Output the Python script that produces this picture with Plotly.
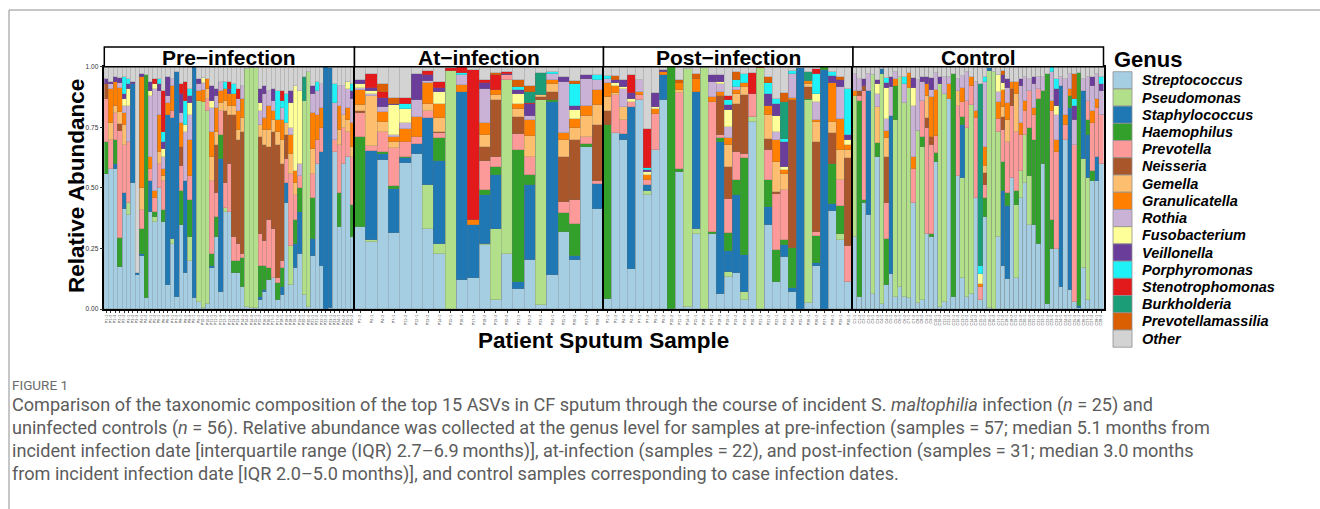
import plotly.graph_objects as go
from plotly.subplots import make_subplots

W, H = 1320, 509

genera = ["Streptococcus", "Pseudomonas", "Staphylococcus", "Haemophilus", "Prevotella",
          "Neisseria", "Gemella", "Granulicatella", "Rothia", "Fusobacterium", "Veillonella",
          "Porphyromonas", "Stenotrophomonas", "Burkholderia", "Prevotellamassilia", "Other"]
genus_colors = ["#a6cee3", "#b2df8a", "#1f78b4", "#33a02c", "#fb9a99", "#a9562a", "#fdbf6f",
                "#ff7f00", "#cab2d6", "#ffff99", "#6a3d9a", "#1ff2f7", "#e31a1c", "#1b9e77",
                "#d95f02", "#d3d3d3"]
panel_titles = ["Pre\u2212infection", "At\u2212infection", "Post\u2212infection", "Control"]

pre_samples = ["P1\u22121", "P1\u22122", "P1\u22123", "P2\u22121", "P2\u22122", "P3\u22121", "P3\u22122", "P3\u22123", "P4\u22121", "P4\u22122",
               "P5\u22121", "P5\u22122", "P6\u22121", "P6\u22122", "P6\u22123", "P7\u22121", "P7\u22122", "P8\u22121", "P8\u22122", "P8\u22123",
               "P9\u22121", "P9\u22122", "P10\u22121", "P10\u22122", "P11\u22121", "P11\u22122", "P11\u22123", "P12\u22121", "P12\u22122", "P13\u22121",
               "P13\u22122", "P14\u22121", "P14\u22122", "P14\u22123", "P15\u22121", "P15\u22122", "P16\u22121", "P16\u22122", "P17\u22121", "P17\u22122",
               "P18\u22121", "P18\u22122", "P18\u22123", "P19\u22121", "P19\u22122", "P20\u22121", "P20\u22122", "P21\u22121", "P21\u22122", "P22\u22121",
               "P22\u22122", "P23\u22121", "P23\u22122", "P24\u22121", "P24\u22122", "P25\u22121", "P25\u22122"]
at_samples = ["P1\u22122", "P4\u22121", "P4\u22122", "P7\u22121", "P11\u22122", "P12\u22121", "P13\u22122", "P14\u22121", "P15\u22121", "P16\u22121",
              "P17\u22121", "P18\u22122", "P19\u22122", "P20\u22122", "P21\u22121", "P22\u22122", "P23\u22121", "P24\u22121", "P25\u22121", "P26\u22121",
              "P27\u22122", "P28\u22121"]
post_samples = ["P1\u22121", "P1\u22122", "P4\u22121", "P4\u22122", "P7\u22121", "P7\u22122", "P9\u22121", "P9\u22122", "P10\u22122", "P11\u22121",
                "P14\u22121", "P15\u22121", "P16\u22121", "P17\u22121", "P18\u22121", "P19\u22121", "P19\u22122", "P19\u22123", "P20\u22121", "P21\u22121",
                "P21\u22122", "P22\u22121", "P23\u22121", "P24\u22121", "P25\u22121", "P26\u22121", "P26\u22122", "P27\u22121", "P28\u22121", "P29\u22121",
                "P30\u22121"]
control_samples = ["C1\u22121", "C1\u22122", "C2\u22121", "C2\u22122", "C3\u22121", "C3\u22122", "C4\u22121", "C4\u22122", "C5\u22121", "C5\u22122",
                   "C6\u22121", "C6\u22122", "C7\u22121", "C7\u22122", "C8\u22121", "C8\u22122", "C9\u22121", "C9\u22122", "C10\u22121", "C10\u22122",
                   "C11\u22121", "C11\u22122", "C12\u22121", "C12\u22122", "C13\u22121", "C13\u22122", "C14\u22121", "C14\u22122", "C15\u22121", "C15\u22122",
                   "C16\u22121", "C16\u22122", "C17\u22121", "C17\u22122", "C18\u22121", "C18\u22122", "C19\u22121", "C19\u22122", "C20\u22121", "C20\u22122",
                   "C21\u22121", "C21\u22122", "C22\u22121", "C22\u22122", "C23\u22121", "C23\u22122", "C24\u22121", "C24\u22122", "C25\u22121", "C25\u22122",
                   "C26\u22121", "C26\u22122", "C27\u22121", "C27\u22122", "C28\u22121", "C28\u22122"]

# relative abundance per genus: [pre, at, post, control]
streptococcus = [
    [.56, .58, .58, .175, .415, .39, .52, .14, .22, .045, .40, .36, .5, .36, .10, .27, .05, .35, .15, .2,
     .045, .03, .005, .02, .17, .3, .07, .4, .4, .15, .15, .09, .01, .005, .005, .04, .07, .12, .13, .04,
     .06, .44, .1, .17, .23, .06, .01, .22, .6, .18, 0, .005, .65, .34, .6, .63, .3],
    [.34, .278, .615, .315, .604, .642, .333, .23, .003, .12, .131, .264, .04, .23, .085, .202, .017, .14, .319, .202, .67, .415],
    [.041, .728, .697, .168, .865, .47, .659, .862, .003, .567, .01, .312, 0, .312, .062, .133, .151, .04, .773, 0,
     .347, .113, .216, .072, 0, .026, .177, .003, .406, .287, .113],
    [.30, .05, .44, .39, .065, .63, .02, .1, .147, .05, .09, .05, .045, .44, .025, .04, .31, .3, .61, .01,
     .03, .87, .05, .55, .13, .05, .065, .46, .04, .38, .005, 0, .3, .18, .127, .54, .13, .46, .52, .35,
     .35, .27, .6, .02, .25, .25, .09, .7, .08, .03, .005, .17, .04, .53, .53, .6]]
pseudomonas = [
    [0, 0, 0, 0, 0, .05, 0, 0, 0, 0, 0, .02, 0, 0, 0, .02, 0, 0, 0, .1,
     0, .83, .85, .8, 0, 0, 0, .02, 0, 0, 0, 0, .98, .99, .99, 0, 0, 0, 0, 0,
     0, 0, .16, 0, 0, .8, .97, 0, 0, 0, 0, 0, 0, 0, 0, 0, 0],
    [0, .007, 0, 0, 0, 0, .179, .039, .98, 0, 0, .007, .293, .718, 0, 0, .846, 0, 0, 0, 0, 0],
    [0, 0, 0, 0, 0, .018, 0, 0, 0, 0, .983, .021, .997, 0, 0, .021, 0, .032, .021, .995,
     0, 0, 0, 0, 0, .836, 0, 0, 0, .022, 0],
    [.58, 0, 0, 0, .9, 0, .95, 0, 0, .73, .87, .8, .87, 0, .71, .63, 0, 0, 0, .92,
     .86, 0, 0, 0, .41, .7, .78, 0, 0, 0, .98, .98, .43, 0, 0, 0, .3, .11, .2, .2,
     0, 0, 0, 0, 0, 0, 0, 0, 0, 0, 0, .45, .5, 0, 0, 0]]
staphylococcus = [
    [0, 0, .02, 0, .065, 0, .41, .01, .01, 0, .13, 0, 0, 0, .7, .5, .93, 0, .38, 0,
     .955, 0, 0, 0, .01, 0, .55, 0, 0, 0, 0, 0, 0, 0, 0, .01, .01, 0, 0, 0,
     .03, .08, 0, .1, .17, 0, 0, .07, 0, .47, 1.0, .99, 0, 0, 0, 0, 0],
    [0, .37, .028, .183, .019, .041, .279, .344, 0, .777, .219, .2, .22, 0, .028, .31, 0, .715, 0, .017, 0, .103],
    [0, 0, .028, .667, 0, .023, 0, .106, 0, 0, 0, .564, 0, 0, .629, .087, .319, .151, 0, 0,
     .076, 0, .048, .014, .997, 0, .014, .983, .03, 0, 0],
    [0, 0, 0, .51, 0, 0, .02, 0, .65, 0, 0, 0, 0, 0, 0, 0, 0, 0, 0, 0,
     0, 0, 0, 0, .22, 0, 0, 0, 0, 0, .01, 0, 0, .31, .3, 0, 0, 0, 0, 0,
     0, 0, 0, 0, 0, 0, .83, 0, .75, 0, .01, .28, .18, 0, .1, 0]]
haemophilus = [
    [.13, 0, .1, .12, 0, 0, 0, 0, .1, .92, 0, .02, 0, .05, 0, 0, 0, .14, 0, .15,
     0, 0, 0, 0, .05, .08, .1, 0, 0, .05, .05, .12, 0, 0, 0, .13, .1, .05, 0, .07,
     .08, 0, 0, .1, .1, 0, 0, .17, 0, 0, 0, 0, 0, .14, 0, 0, .13],
    [.37, 0, .005, .011, .005, 0, 0, .092, 0, 0, 0, .021, .034, 0, .543, .041, 0, .01, .08, .135, .011, 0],
    [.718, 0, 0, 0, 0, 0, 0, 0, .997, .014, 0, 0, 0, .007, .018, .072, .065, .403, 0, 0,
     .11, .133, .023, .165, 0, .007, .11, .014, .165, .116, 0],
    [0, .81, .01, 0, 0, .055, 0, .19, 0, .14, 0, 0, 0, 0, 0, .04, 0, .01, .034, 0,
     0, 0, .92, 0, .034, 0, 0, 0, 0, .08, 0, 0, 0, .12, .055, 0, .06, 0, 0, .2,
     .35, .6, .3, .95, .12, 0, 0, 0, .05, 0, .96, 0, .06, .04, 0, 0]]
prevotella = [
    [.18, .12, .11, .44, .2, .25, 0, 0, .08, 0, .05, .06, .1, .12, 0, .03, 0, .1, 0, .1,
     0, 0, 0, .05, .3, .1, .1, .1, .2, .1, .07, .02, 0, 0, 0, .13, .1, .2, .2, .02,
     .03, .1, .3, .1, .05, 0, 0, .1, .1, .1, 0, 0, .05, .2, .15, .1, .2],
    [.10, .02, .084, .158, .062, .028, .028, .021, 0, 0, 0, .121, .041, .018, .069, .076, 0, 0, .044, .096, .03, .011],
    [0, .155, .055, .021, .018, .023, .149, 0, 0, .31, 0, 0, 0, .536, .012, .144, .114, .017, .096, 0,
     .124, .228, .204, 0, 0, 0, .018, 0, 0, .107, .147],
    [0, .02, .45, 0, 0, 0, 0, .15, 0, 0, 0, 0, 0, .14, 0, .15, .44, .37, .07, 0,
     0, 0, 0, .29, .06, .11, .075, .33, .05, .055, 0, 0, .055, .13, .21, .3, .24, .15, .1, .15,
     .1, .04, 0, 0, .45, .4, 0, .06, 0, .65, 0, 0, .08, .2, .2, .2]]
neisseria = [
    [.06, 0, 0, .03, 0, 0, 0, 0, 0, 0, 0, 0, 0, 0, 0, 0, 0, .08, 0, 0,
     0, 0, 0, 0, 0, .2, 0, .3, .2, .5, .43, .5, 0, 0, 0, .4, .4, .3, .4, .55,
     .4, .1, 0, 0, 0, 0, 0, 0, 0, 0, 0, 0, 0, 0, 0, 0, 0],
    [.01, 0, 0, 0, 0, 0, 0, .007, 0, 0, 0, .055, .234, 0, .069, 0, .015, .032, .186, .248, 0, .23],
    [.059, 0, 0, 0, 0, 0, 0, 0, 0, 0, 0, 0, 0, 0, .158, .131, .2, .241, 0, 0,
     .044, .01, 0, .612, 0, .048, .371, 0, .127, 0, .366],
    [0, .02, .02, 0, 0, 0, 0, .19, 0, 0, 0, 0, 0, 0, 0, 0, .04, .03, 0, 0,
     0, 0, 0, 0, 0, 0, 0, 0, 0, .048, 0, 0, 0, .055, 0, .07, 0, 0, 0, 0] + [0] * 16]
gemella = [
    [0, .07, .03, .05, .08, 0, 0, 0, .09, 0, 0, 0, .05, .02, 0, 0, 0, 0, 0, 0,
     0, 0, 0, .04, .1, .05, .03, .04, .04, .04, .04, .06, 0, 0, 0, .05, .06, .07, .05, .05,
     .1, .05, .08, .05, 0, 0, 0, .1, 0, 0, 0, 0, 0, .06, .05, .05, .04],
    [.025, .205, .041, .023, 0, 0, .028, .055, 0, 0, 0, .051, .021, 0, .034, .085, .007, .034, .069, .052, .085, .083],
    [.058, .01, .055, 0, 0, 0, 0, 0, 0, .014, 0, 0, 0, 0, 0, .089, .041, .034, 0, 0,
     .1, .124, .069, 0, 0, .014, .083, 0, .045, .124, .03],
    [0, 0, 0, 0, 0, .15, 0, .075, 0, 0, 0, 0, 0, 0, 0, 0, .09, 0, 0, 0,
     0, 0, 0, .06, 0, 0, 0, 0, 0, .03, 0, 0, 0, .04, .09, 0, .16, 0, 0, 0] + [0] * 16]
granulicatella = [
    [0, .14, .1, .1, .05, 0, 0, 0, .46, 0, .05, .03, .15, .03, .05, .1, 0, .1, 0, .15,
     0, .04, .05, .04, .1, .1, .05, .05, .05, .05, .08, .08, 0, 0, 0, 0, .05, .1, .04, .05,
     .08, 0, .08, .05, 0, 0, 0, .15, .1, .08, 0, 0, 0, .1, 0, .05, .1],
    [.06, 0, .041, .021, .055, .083, .085, .059, 0, .028, .018, .048, .021, 0, .018, .069, 0, .017, .028, .037, .041, .065],
    [.058, .028, 0, 0, .014, .022, .017, .011, 0, .03, 0, .055, 0, .021, .018, .032, .014, .014, 0, 0,
     .037, .09, .014, .011, 0, .011, .007, 0, .161, .131, .021],
    [.02, 0, 0, 0, 0, 0, 0, .03, 0, .03, 0, 0, .06, .05, 0, 0, .05, .165, .19, 0,
     0, .06, 0, 0, .06, 0, .04, .03, .015, .075, 0, 0, .07, .07, .07, .03, .05, .05, .04, 0,
     .03, 0, 0, 0, .04, .05, 0, .04, .03, 0, 0, 0, 0, .05, .04, 0]]
rothia = [
    [0, .02, 0, .02, .03, .15, 0, 0, 0, 0, .25, .42, .1, .05, .03, .03, 0, .04, .2, .1,
     0, .03, .03, 0, .1, .05, .04, 0, 0, 0, .05, .05, 0, 0, 0, .06, .1, .06, .04, 0,
     .05, 0, .03, 0, .05, 0, 0, .08, .1, .1, 0, 0, .15, .08, .12, .08, .1],
    [.01, .01, .02, .007, .023, .069, .011, 0, 0, .041, 0, .144, 0, 0, 0, .014, 0, .025, .213, 0, .114, .041],
    [.018, 0, .076, 0, .05, 0, 0, 0, 0, 0, 0, 0, 0, .062, .034, .044, .014, 0, 0, 0,
     0, .034, 0, .099, 0, 0, .076, 0, 0, .131, 0],
    [.07, .05, 0, .07, 0, .055, 0, .05, .12, .03, 0, .08, 0, .21, .21, .08, 0, .03, .07, 0,
     .07, .03, 0, .05, .05, .12, 0, .12, 0, .27, 0, 0, .04, 0, .06, 0, 0, .15, .1, .05,
     .1, .05, .06, 0, .12, .1, .04, .15, .06, .1, 0, .05, .1, .1, .1, .1]]
fusobacterium = [
    [0, 0, 0, 0, .03, .07, 0, 0, 0, 0, .02, .02, 0, .03, 0, 0, 0, 0, .03, .05,
     0, 0, .02, 0, .03, 0, 0, 0, 0, 0, 0, 0, 0, 0, 0, .03, 0, 0, 0, 0,
     0, 0, .1, .35, .3, 0, 0, 0, 0, 0, 0, 0, 0, 0, 0, .03, 0],
    [.015, .01, 0, .124, .059, 0, 0, .048, 0, 0, 0, 0, 0, 0, .044, 0, 0, 0, 0, .037, 0, 0],
    [0, .014, .007, .014, 0, .01, .011, 0, 0, 0, 0, 0, 0, 0, .007, .069, 0, 0, 0, 0,
     0, .066, .014, 0, 0, 0, .034, 0, 0, 0, .023],
    [0, 0, 0, 0, 0, .04, 0, .13, 0, 0, 0, 0, 0, .075, 0, 0, 0, 0, 0, 0,
     0, 0, 0, 0, 0, 0, 0, 0, .04, 0, 0, 0, .07, .03, 0, 0, 0, 0, 0, 0,
     0, 0, 0, 0, 0, .04, 0, 0, 0, 0, 0, 0, 0, 0, 0, 0]]
veillonella = [
    [.02, .01, .02, .02, .02, .02, .01, 0, .01, 0, .04, 0, .03, .03, .08, 0, 0, .08, 0, .03,
     0, .02, 0, 0, .06, .03, 0, 0, .02, 0, 0, 0, 0, 0, 0, .06, .03, 0, .05, 0,
     0, 0, .05, 0, 0, 0, 0, .03, 0, 0, 0, 0, 0, 0, 0, 0, .03],
    [.017, .015, .039, .007, 0, .107, .026, .017, 0, 0, 0, .023, 0, .007, .014, .05, 0, 0, .021, .014, .018, 0],
    [0, .011, .028, .023, 0, .008, .058, .01, 0, 0, 0, 0, 0, .028, .028, .021, 0, 0, 0, 0,
     .051, .05, .103, 0, 0, 0, 0, 0, .028, .03, .018],
    [0, 0, .03, 0, 0, .015, 0, .02, .04, 0, 0, 0, 0, .04, 0, .02, .03, .05, 0, .03,
     0, 0, 0, 0, 0, 0, 0, 0, 0, 0, 0, 0, 0, .03, .04, 0, 0, .03, 0, 0,
     .03, 0, 0, 0, 0, .07, 0, 0, 0, .06, 0, 0, 0, .04, 0, .03]]
porphyromonas = [
    [0, 0, 0, 0, .07, .02, 0, 0, 0, 0, 0, 0, .02, .04, 0, 0, 0, 0, .1, .03,
     0, 0, 0, 0, 0, 0, 0, .03, 0, .04, 0, 0, 0, 0, 0, 0, 0, 0, 0, .12,
     .03, .12, 0, 0, 0, 0, 0, 0, .04, 0, 0, 0, .08, 0, 0, 0, .03],
    [0, 0, 0, 0, .021, 0, 0, 0, 0, .01, 0, 0, 0, 0, .014, 0, 0, .007, 0, .091, 0, .018],
    [.01, 0, 0, 0, 0, .01, 0, 0, 0, 0, 0, 0, 0, 0, 0, .021, .028, .041, 0, 0,
     .044, .02, .01, .011, 0, 0, .083, 0, .018, 0, .193],
    [0, 0, 0, 0, 0, 0, 0, .02, 0, 0, 0, .03, 0, 0, 0, 0, 0, 0, 0, 0,
     0, 0, 0, 0, 0, 0, 0, 0, .035, .02, 0, 0, 0, 0, 0, 0, 0, 0, 0, 0,
     0, 0, 0, 0, .03, .04, 0, 0, 0, .03, 0, 0, 0, 0, 0, .03]]
stenotrophomonas = [
    [0, 0, 0, 0, 0, 0, 0, 0, 0, 0, 0, .02, 0, .17, 0, 0, 0, .04, .08, 0,
     0, 0, 0, 0, 0, 0, 0, 0, .03, 0, .04, 0, 0, 0, 0, 0, 0, 0, 0, 0,
     .04, 0, 0, 0, 0, 0, 0, 0, 0, 0, 0, 0, 0, 0, 0, 0, 0],
    [0, .055, .023, 0, .025, 0, .014, .028, .014, .022, .62, .014, .062, .007, 0, .006, 0, 0, 0, 0, 0, 0],
    [0, 0, 0, .073, 0, .162, 0, 0, 0, 0, 0, 0, 0, 0, 0, .017, 0, 0, .087, .005,
     0, 0, 0, 0, 0, 0, .017, 0, 0, 0, 0],
    [0] * 56]
burkholderia = [
    [0] * 45 + [.1] + [0] * 11,
    [0] * 15 + [.045, .089] + [0] * 5,
    [0] * 22 + [.155, 0, 0, .037] + [0] * 5,
    [0] * 28 + [.75] + [0] * 27]
prevotellamassilia = [
    [0] * 57,
    [0, 0, .032, .025, 0, 0, 0, 0, 0, 0, 0, 0, .011, 0, .03, .023, 0, 0, 0, .014, 0, 0],
    [0, .017, 0, 0, 0, 0, 0, 0, 0, .01, 0, .02, 0, 0, 0, 0, .034, 0, 0, 0,
     .025, 0, .037, 0, 0, 0, 0, 0, 0, .011, 0],
    [0] * 33 + [.02] + [0] * 15 + [.1] + [0] * 6]

panel_samples = [pre_samples, at_samples, post_samples, control_samples]
named = [streptococcus, pseudomonas, staphylococcus, haemophilus, prevotella, neisseria, gemella,
         granulicatella, rothia, fusobacterium, veillonella, porphyromonas, stenotrophomonas,
         burkholderia, prevotellamassilia]
for g, series in enumerate(named):
    for p in range(4):
        assert len(series[p]) == len(panel_samples[p]), (genera[g], p, len(series[p]))

# "Other" = remainder of each sample's relative abundance
other = []
for p in range(4):
    col = []
    for i in range(len(panel_samples[p])):
        s = sum(series[p][i] for series in named)
        col.append(max(0.0, 1.0 - s))
    other.append(col)
all_series = named + [other]


def px(x):
    return x / W


def py(y):
    return 1 - y / H


bounds = [104.3, 354.5, 603.5, 853.0, 1103.5]
y_top, y_bot = 66.7, 309.0

fig = make_subplots(rows=1, cols=4, shared_yaxes=True, horizontal_spacing=0)
for p in range(4):
    for g, name in enumerate(genera):
        fig.add_trace(go.Bar(
            x=panel_samples[p], y=all_series[g][p], name=name,
            marker=dict(color=genus_colors[g], line=dict(color="rgba(110,110,110,0.75)", width=0.35)),
            showlegend=False,
            hovertemplate="%{x}<br>" + name + ": %{y:.3f}<extra></extra>"),
            row=1, col=p + 1)

layout_axes = {}
for p in range(4):
    sfx = "" if p == 0 else str(p + 1)
    layout_axes["xaxis" + sfx] = dict(
        domain=[px(bounds[p]), px(bounds[p + 1])], type="category",
        range=[-0.5, len(panel_samples[p]) - 0.5],
        tickangle=-90, tickfont=dict(family="Liberation Sans", size=3.6, color="#3d3d3d"),
        ticks="outside", ticklen=2.5, tickwidth=0.5, tickcolor="#333333",
        showline=True, mirror=True, linecolor="black", linewidth=1.5,
        showgrid=False, zeroline=False, automargin=False, fixedrange=True)
    layout_axes["yaxis" + sfx] = dict(
        domain=[py(y_bot), py(y_top)], range=[0, 1],
        showline=True, mirror=True, linecolor="black", linewidth=1.5,
        showgrid=False, zeroline=False, automargin=False, fixedrange=True,
        tickvals=[0, 0.25, 0.5, 0.75, 1.0],
        ticktext=["0.00", "0.25", "0.50", "0.75", "1.00"],
        ticks="outside" if p == 0 else "", ticklen=3, tickwidth=1, tickcolor="#333333",
        showticklabels=(p == 0),
        tickfont=dict(family="Liberation Sans", size=6.5, color="#333333"))

shapes = []
annotations = []
# outer figure frame (journal page box)
shapes.append(dict(type="line", xref="paper", yref="paper", x0=px(9), x1=1.0, y0=py(10), y1=py(10),
                   line=dict(color="#b3b3b3", width=1.5)))
shapes.append(dict(type="line", xref="paper", yref="paper", x0=px(9), x1=px(9), y0=py(10), y1=0,
                   line=dict(color="#b3b3b3", width=1.5)))
# facet strips
for p in range(4):
    shapes.append(dict(type="rect", xref="paper", yref="paper",
                       x0=px(bounds[p]), x1=px(bounds[p + 1]), y0=py(y_top), y1=py(47),
                       line=dict(color="black", width=1.5), fillcolor="white", layer="above"))
    annotations.append(dict(xref="paper", yref="paper", x=px((bounds[p] + bounds[p + 1]) / 2), y=py(57.5),
                            text="<b>" + panel_titles[p] + "</b>", showarrow=False,
                            font=dict(family="Liberation Sans", size=21, color="black"),
                            xanchor="center", yanchor="middle"))
# axis titles
annotations.append(dict(xref="paper", yref="paper", x=px(76), y=py(186), text="<b>Relative Abundance</b>",
                        textangle=-90, showarrow=False, xanchor="center", yanchor="middle",
                        font=dict(family="Liberation Sans", size=22.5, color="black")))
annotations.append(dict(xref="paper", yref="paper", x=px(603), y=py(340), text="<b>Patient Sputum Sample</b>",
                        showarrow=False, xanchor="center", yanchor="middle",
                        font=dict(family="Liberation Sans", size=22.5, color="black")))
# legend (drawn as keys + labels)
annotations.append(dict(xref="paper", yref="paper", x=px(1112), y=py(59), text="<b>Genus</b>",
                        showarrow=False, xanchor="left", yanchor="middle",
                        font=dict(family="Liberation Sans", size=22, color="black")))
key_top, key_h = 71.7, 17.22
for g, name in enumerate(genera):
    y0 = key_top + g * key_h
    shapes.append(dict(type="rect", xref="paper", yref="paper", x0=px(1113), x1=px(1132),
                       y0=py(y0 + key_h), y1=py(y0), fillcolor=genus_colors[g],
                       line=dict(color="#8f8f8f", width=0.8)))
    annotations.append(dict(xref="paper", yref="paper", x=px(1140), y=py(y0 + key_h / 2),
                            text="<b><i>" + name + "</i></b>", showarrow=False,
                            xanchor="left", yanchor="middle",
                            font=dict(family="Liberation Sans", size=14.5, color="black")))
# caption
annotations.append(dict(xref="paper", yref="paper", x=px(10), y=py(385), text="FIGURE 1",
                        showarrow=False, xanchor="left", yanchor="middle",
                        font=dict(family="Roboto", size=13.5, color="#6b6b6b")))
caption_lines = [
    "Comparison of the taxonomic composition of the top 15 ASVs in CF sputum through the course of incident S. <i>maltophilia</i> infection (<i>n</i> = 25) and",
    "uninfected controls (<i>n</i> = 56). Relative abundance was collected at the genus level for samples at pre-infection (samples = 57; median 5.1\u2009months from",
    "incident infection date [interquartile range (IQR) 2.7\u20136.9\u2009months)], at-infection (samples = 22), and post-infection (samples = 31; median 3.0\u2009months",
    "from incident infection date [IQR 2.0\u20135.0\u2009months)], and control samples corresponding to case infection dates.",
]
for k, line in enumerate(caption_lines):
    annotations.append(dict(xref="paper", yref="paper", x=px(10), y=py(405 + 23 * k), text=line,
                            showarrow=False, xanchor="left", yanchor="middle",
                            font=dict(family="Roboto", size=18.1, color="#5c5c5c")))

fig.update_layout(
    width=W, height=H, margin=dict(l=0, r=0, t=0, b=0),
    paper_bgcolor="white", plot_bgcolor="white",
    barmode="stack", bargap=0, bargroupgap=0,
    shapes=shapes, annotations=annotations, showlegend=False,
    **layout_axes)

fig.write_html("out.html", config={"displayModeBar": False},
               post_script="document.body.style.margin='0';document.body.style.overflow='hidden';")
